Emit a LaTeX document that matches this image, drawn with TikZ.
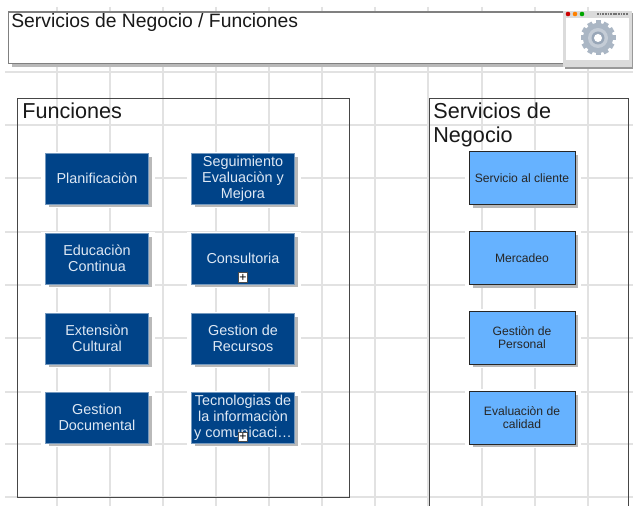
\documentclass[tikz,border=0pt]{standalone}
\usepackage{fontspec}
\setmainfont{Liberation Sans}
\usetikzlibrary{positioning}
\usetikzlibrary{shadows}
\definecolor{gridgray}{RGB}{226,226,226}
\definecolor{funcblue}{RGB}{0,67,136}
\definecolor{servblue}{RGB}{102,178,255}
\definecolor{framegray}{RGB}{70,70,70}
\definecolor{shadowgray}{RGB}{185,185,185}
\definecolor{funcwhite}{RGB}{222,232,244}
\definecolor{gearblue}{RGB}{170,182,196}
\tikzset{
hardshadow/.style = {general shadow={fill=white, shadow scale=1.1, shadow xshift=0.02cm, shadow yshift=-0.02cm},
                     general shadow={fill=shadowgray, shadow xshift=0.07cm, shadow yshift=-0.07cm}},
func/.style = {draw=funcblue!55, line width=0.3pt, fill=funcblue, text=funcwhite, hardshadow,
               minimum width=2.06cm, minimum height=1.02cm, align=center,
               inner sep=0pt, font=\fontsize{8.2}{9.2}\selectfont},
serv/.style = {draw=black!85, line width=0.5pt, fill=servblue, text=black!85, hardshadow,
               minimum width=2.12cm, minimum height=1.06cm, align=center,
               inner sep=0pt, font=\fontsize{6.9}{7.6}\selectfont},
frame/.style = {draw=framegray, line width=0.6pt, inner sep=0pt, anchor=north west},
heading/.style = {anchor=north west, inner sep=0pt, align=left, text=black!90,
                  font=\fontsize{12.3}{14.2}\selectfont},
expander/.style = {draw=black!70, fill=white, line width=0.3pt, inner sep=0pt,
                   minimum size=0.19cm, font=\fontsize{7}{7}\selectfont, text=black},
}
\begin{document}
\begin{tikzpicture}[x=0.02cm,y=-0.02cm]
	\useasboundingbox (0,0) rectangle (633,506);
	\clip (0,0) rectangle (633,506);
	\fill [white] (0,0) rectangle (633,506);
	% grid
	\foreach \x in {57,110,163,216,269,322,375,428,482,535,588}
		\draw [gridgray, line width=0.6pt] (\x,7) -- (\x,506);
	\foreach \y in {72,125,178,232,285,338,392,444,497}
		\draw [gridgray, line width=0.6pt] (5,\y) -- (633,\y);
	% title
	\node [frame, draw=black!50, fill=white, general shadow={fill=shadowgray, shadow xshift=0.07cm, shadow yshift=-0.07cm},
		minimum width=11.16cm, minimum height=1.03cm] (title) at (7.5,11.5) {};
	\node [anchor=north west, inner sep=0pt, font=\fontsize{11}{12}\selectfont, text=black!90] (titletext) at (11,13) {Servicios de Negocio / Funciones};
	% icon
	\node [fill=black!14, general shadow={fill=black!40, shadow xshift=0.03cm, shadow yshift=-0.03cm},
		minimum width=1.38cm, minimum height=1.12cm, inner sep=0pt, anchor=north west] (icon) at (563,11) {};
	\fill [white] (566,18) rectangle (629,60);
	\foreach \x/\c in {568/red!80!black, 575/orange, 582/green!65!black}
		\fill [\c] (\x,14) circle (2.3);
	\draw [black!55, line width=1pt, dash pattern=on 1pt off 0.5pt] (597,14) -- (628,14);
	\foreach \a in {0,30,...,330}
		\fill [gearblue, rotate around={\a:(598,38)}] (595.5,20.5) rectangle (600.5,30);
	\fill [gearblue] (598,38) circle (15);
	\fill [gearblue!70] (598,38) circle (10);
	\fill [gearblue!120] (598,38) circle (6.5);
	\fill [white] (598,38) circle (4);
	% funciones
	\node [frame, minimum width=6.64cm, minimum height=7.98cm] (funciones) at (17,98) {};
	\node [heading] (funcionestext) at (22,102) {Funciones};
	\node [func] (plan) at (97,178.5) {Planificaciòn};
	\node [func] (seguimiento) at (243,178.5) {Seguimiento\\Evaluaciòn y\\Mejora};
	\node [func] (educacion) at (97,258.5) {Educaciòn\\Continua};
	\node [func] (consultoria) at (243,258.5) {Consultoria};
	\node [func] (extension) at (97,338.5) {Extensiòn\\Cultural};
	\node [func] (recursos) at (243,338.5) {Gestion de\\Recursos};
	\node [func] (documental) at (97,417.5) {Gestion\\Documental};
	\node [func] (tecnologias) at (243,417.5) {Tecnologias de\\la informaciòn\\y comunicaci…};
	\node [expander] (plusa) at (243,277.5) {+};
	\node [expander] (plusb) at (243,437) {+};
	% servicios
	\node [frame, minimum width=3.98cm, minimum height=9cm] (servicios) at (429,98) {};
	\node [heading] (serviciostext) at (433,102) {Servicios de\\Negocio};
	\node [serv] (cliente) at (522,178) {Servicio al cliente};
	\node [serv] (mercadeo) at (522,258) {Mercadeo};
	\node [serv] (personal) at (522,337.5) {Gestiòn de\\Personal};
	\node [serv] (calidad) at (522,417.5) {Evaluaciòn de\\calidad};
\end{tikzpicture}
\end{document}
